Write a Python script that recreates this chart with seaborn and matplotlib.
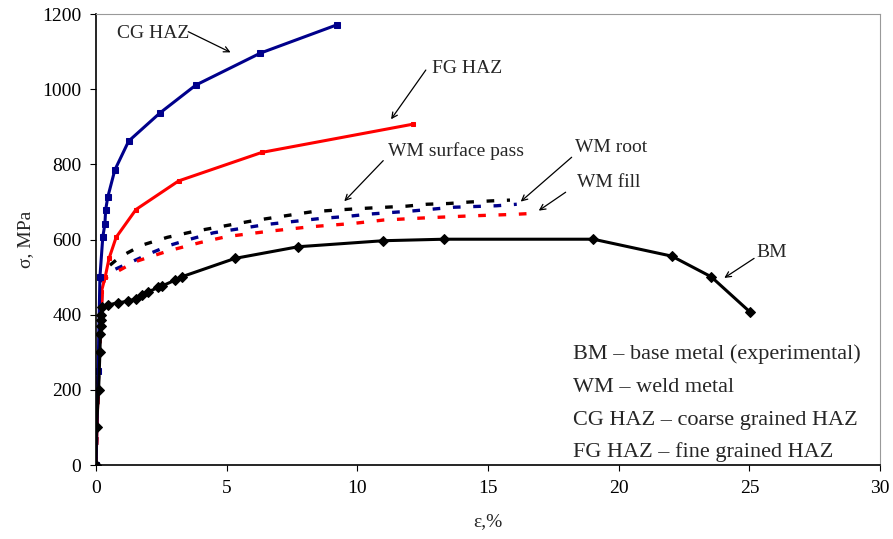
import matplotlib
matplotlib.use("Agg")
import matplotlib.pyplot as plt
import seaborn as sns
import pandas as pd

# strain (%) and stress (MPa)
bm_eps = [0, 0.02, 0.1, 0.15, 0.17, 0.18, 0.19, 0.2, 0.22, 0.47, 0.83, 1.24, 1.53, 1.75, 2.0,
          2.39, 2.51, 3.02, 3.28, 5.32, 7.74, 11.0, 13.32, 19.03, 22.03, 23.54, 25.03]
bm_sig = [0, 102, 200, 301, 350, 370, 385, 400, 421, 426, 432, 436, 443, 452, 461,
          473, 476, 492, 501, 550, 581, 597, 601, 601, 556, 501, 407]

cg_eps = [0, 0.08, 0.15, 0.26, 0.34, 0.37, 0.45, 0.72, 1.25, 2.45, 3.82, 6.29, 9.21]
cg_sig = [0, 250, 500, 607, 641, 679, 713, 785, 862, 937, 1011, 1096, 1171]

fg_eps = [0, 0.1, 0.2, 0.35, 0.5, 0.77, 1.53, 3.16, 6.35, 12.13]
fg_sig = [0, 250, 460, 500, 550, 606, 680, 756, 832, 907]

surf_eps = [0, 0.1, 0.2, 0.5, 0.92, 1.75, 2.73, 3.7, 6.0, 8.26, 9.27, 10.23, 11.06,
            11.89, 12.66, 13.49, 14.31, 15.14, 15.84]
surf_sig = [0, 250, 505, 530, 554, 585, 606, 621, 650, 674, 679, 683, 686,
            689, 694, 696, 700, 703, 705]

root_eps = [0, 0.1, 0.25, 0.73, 1.37, 2.13, 2.83, 3.6, 4.49, 6.5, 8.57, 9.66, 10.49,
            12.08, 13.67, 15.33, 16.1]
root_sig = [0, 250, 500, 521, 541, 565, 585, 601, 618, 640, 656, 662, 668,
            676, 686, 690, 694]

fill_eps = [0, 0.1, 0.25, 0.34, 1.49, 2.77, 3.98, 5.0, 6.6, 8.19, 9.85, 11.0, 12.66,
            14.31, 15.97, 16.8]
fill_sig = [0, 250, 475, 497, 541, 570, 592, 608, 622, 634, 643, 652, 658,
            663, 667, 670]

legend_lines = ["BM \u2013 base metal (experimental)", "WM \u2013 weld metal",
                "CG HAZ \u2013 coarse grained HAZ", "FG HAZ \u2013 fine grained HAZ"]

sns.set_style("ticks")
plt.rcParams['font.family'] = ['Liberation Serif', 'DejaVu Serif']

fig = plt.figure(figsize=(8.93, 5.39), dpi=100)
ax = fig.add_axes([0.1075, 0.137, 0.878, 0.837])

def draw(eps, sig, color, marker=None, ms=5, lw=2.2, dashes=None):
    df = pd.DataFrame({'eps': eps, 'sig': sig})
    sns.lineplot(data=df, x='eps', y='sig', sort=False, estimator=None, ax=ax,
                 color=color, lw=lw, marker=marker, markersize=ms,
                 markeredgecolor=color)
    if dashes is not None:
        ax.lines[-1].set_dashes(dashes)

draw(surf_eps, surf_sig, 'black', lw=2.4, dashes=(2.3, 3.8))
draw(root_eps, root_sig, '#00008B', lw=2.4, dashes=(2.3, 3.8))
draw(fill_eps, fill_sig, 'red', lw=2.4, dashes=(2.3, 3.8))
draw(fg_eps, fg_sig, 'red', marker='s', ms=2.5)
draw(cg_eps, cg_sig, '#00008B', marker='s', ms=4.5)
draw(bm_eps, bm_sig, 'black', marker='D', ms=5)

ax.set_xlim(0, 30)
ax.set_ylim(0, 1200)
ax.set_xticks(range(0, 31, 5))
ax.set_yticks(range(0, 1201, 200))
ax.tick_params(labelsize=14, direction='out', length=4.5, width=0.8, colors='black', pad=6)
ax.set_xlabel('\u03b5,%', fontsize=14, labelpad=12)
ax.set_ylabel('\u03c3, MPa', fontsize=14, labelpad=6)
for s in ['left', 'bottom']:
    ax.spines[s].set_color('black')
    ax.spines[s].set_linewidth(1.2)
for s in ['top', 'right']:
    ax.spines[s].set_visible(True)
    ax.spines[s].set_color('#999999')
    ax.spines[s].set_linewidth(0.8)

arrow = dict(arrowstyle='->', color='black', lw=0.9, shrinkA=0, shrinkB=0)
labels = [
    ('CG HAZ', (0.79, 1135), (3.53, 1153), (5.15, 1098)),
    ('FG HAZ', (12.86, 1042), (12.62, 1051), (11.29, 920)),
    ('WM surface pass', (11.19, 822), (10.99, 810), (9.50, 702)),
    ('WM root', (18.33, 834), (18.20, 819), (16.25, 701)),
    ('WM fill', (18.39, 741), (17.97, 726), (16.94, 677)),
    ('BM', (25.28, 553), (25.18, 550), (24.04, 498)),
]
for txt, pos, start, tip in labels:
    ax.text(pos[0], pos[1], txt, ha='left', va='baseline', fontsize=14)
    ax.annotate('', xy=tip, xytext=start, arrowprops=arrow)

for i, t in enumerate(legend_lines):
    ax.text(0.608, 0.235 - i * 0.0725, t, transform=ax.transAxes, ha='left', va='baseline',
            fontsize=16)

fig.savefig('out.png', dpi=100)
